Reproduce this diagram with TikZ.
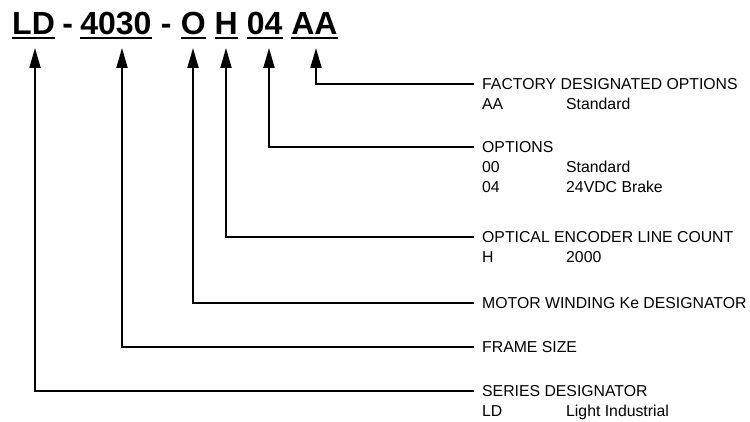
\documentclass[tikz,border=0pt]{standalone}
\usepackage{fontspec}
\setmainfont{Liberation Sans}
\usetikzlibrary{arrows.meta, positioning, calc}
\newcommand{\optrow}[2]{\makebox[84pt][l]{#1}#2}

\begin{document}
\begin{tikzpicture}[x=1pt, y=-1pt,
    code/.style={font=\fontsize{32}{38}\selectfont\bfseries, inner sep=0pt, anchor=base west},
    head/.style={font=\fontsize{15.8}{20}\selectfont, inner xsep=8pt, inner ysep=0pt, anchor=west},
    itm/.style={font=\fontsize{15.8}{20}\selectfont, inner xsep=8pt, inner ysep=0pt, anchor=base west},
    arr/.style={line width=2pt, -{Triangle[length=20pt, width=11pt]}},
    uline/.style={line width=2.6pt},
    node distance=8.5pt
]
\useasboundingbox (0,0) rectangle (750,422);

% part number
\node[code] (ld) at (12,35) {LD};
\node[code, base right=7pt of ld] (d1) {-};
\node[code, base right=7pt of d1] (frame) {4030};
\node[code, base right=9pt of frame] (d2) {-};
\node[code, base right=9pt of d2] (wind) {O};
\node[code, base right=of wind] (enc) {H};
\node[code, base right=of enc] (opt) {04};
\node[code, base right=of opt] (fac) {AA};
\foreach \n in {ld, frame, wind, enc, opt, fac}
    \draw[uline] ($(\n.base west)+(0,3)$) -- ($(\n.base east)+(0,3)$);

% arrow tips under the fields
\coordinate (tSer) at (35,48);
\coordinate (tFrame) at (122,48);
\coordinate (tWind) at (193,48);
\coordinate (tEnc) at (226,48);
\coordinate (tOpt) at (269,48);
\coordinate (tFac) at (316,48);

% field descriptions
\node[head] (hFac) at (474,84) {FACTORY DESIGNATED OPTIONS};
\node[itm] (rFac) at ($(hFac.base west)+(0,20)$) {\optrow{AA}{Standard}};

\node[head] (hOpt) at (474,147) {OPTIONS};
\node[itm] (rOpt0) at ($(hOpt.base west)+(0,20)$) {\optrow{00}{Standard}};
\node[itm] (rOpt4) at ($(rOpt0.base west)+(0,20)$) {\optrow{04}{24VDC Brake}};

\node[head] (hEnc) at (474,237) {OPTICAL ENCODER LINE COUNT};
\node[itm] (rEnc) at ($(hEnc.base west)+(0,20)$) {\optrow{H}{2000}};

\node[head] (hWind) at (474,303) {MOTOR WINDING Ke DESIGNATOR};

\node[head] (hFrame) at (474,347) {FRAME SIZE};

\node[head] (hSer) at (474,391) {SERIES DESIGNATOR};
\node[itm] (rSer) at ($(hSer.base west)+(0,20)$) {\optrow{LD}{Light Industrial}};

% leaders
\draw[arr] (hFac.west) -| (tFac);
\draw[arr] (hOpt.west) -| (tOpt);
\draw[arr] (hEnc.west) -| (tEnc);
\draw[arr] (hWind.west) -| (tWind);
\draw[arr] (hFrame.west) -| (tFrame);
\draw[arr] (hSer.west) -| (tSer);
\end{tikzpicture}
\end{document}
